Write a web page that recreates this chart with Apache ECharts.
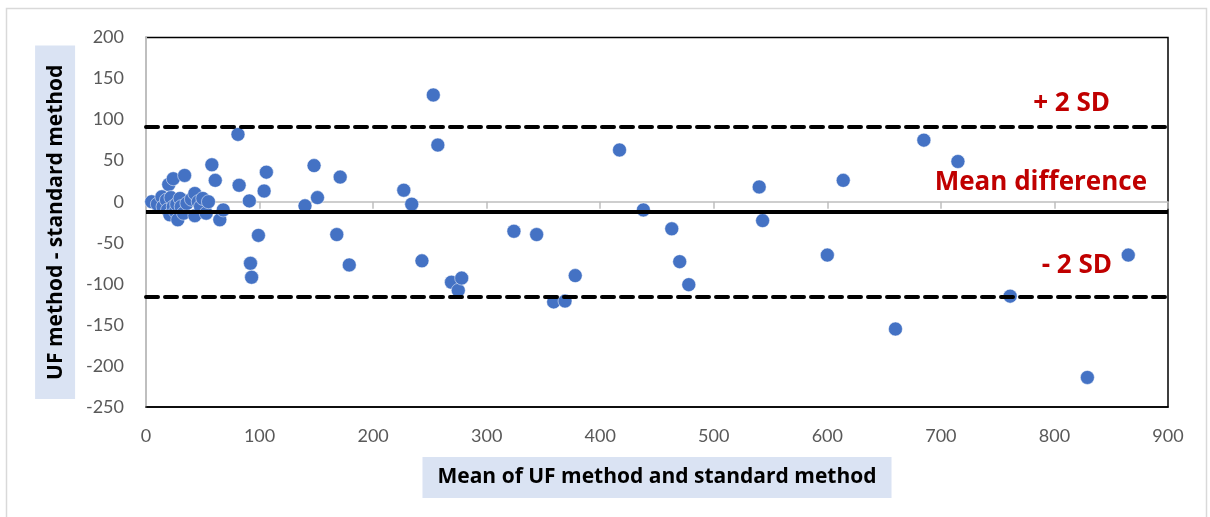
<!DOCTYPE html>
<html>
<head>
<meta http-equiv="Content-Type" content="text/html; charset=utf-8" />
<title>Bland-Altman</title>
<script src="https://cdn.jsdelivr.net/npm/echarts@6/dist/echarts.min.js"></script>
<style>
  html, body { margin: 0; padding: 0; background: #fff; }
  #main { width: 1210px; height: 517px; }
</style>
</head>
<body>
  <div id="main"></div>
<script type="text/javascript">
// mean of the two methods (x) and their difference (y)
var meanX = [5, 10, 14, 15, 18, 19, 20, 21, 22, 24, 24, 26, 27, 28, 30, 31, 33, 34, 36, 40,
  43, 43, 46, 48, 50, 53, 55, 58, 61, 65, 68,
  81, 82, 91, 92, 93, 99, 104, 106, 140, 148, 151, 168, 171, 179, 227, 234, 243, 253, 257,
  269, 275, 278, 324, 344, 359, 369, 378, 417, 438, 463, 470, 478, 540, 543, 600, 614,
  660, 685, 715, 761, 829, 865];
var diffY = [0, -3, 6, -6, 2, -10, 21, -16, 5, 28, -6, -12, -3, -22, 4, -6, -14, 32, -2, 3,
  10, -17, 0, -6, 4, -14, 0, 45, 26, -22, -10,
  82, 20, 1, -75, -92, -41, 13, 36, -5, 44, 5, -40, 30, -77, 14, -3, -72, 130, 69,
  -98, -108, -93, -36, -40, -122, -121, -90, 63, -10, -33, -73, -101, 18, -23, -65, 26,
  -155, 75, 49, -115, -214, -65];

var meanDiff = -12.5;
var upperSD = 91;
var lowerSD = -116;

var xTicks = [0, 900, 100];      // min, max, interval
var yTicks = [-250, 200, 50];

var points = [];
for (var i = 0; i < meanX.length; i++) {
  points.push([meanX[i], diffY[i]]);
}

var red = '#C00000';
var font = 'Lato, "Open Sans", sans-serif';
var boldFont = '"Open Sans", Lato, sans-serif';

var chart = echarts.init(document.getElementById('main'));
var option = {
  animation: false,
  textStyle: { fontFamily: font },
  graphic: [{
    type: 'rect',
    shape: { x: 6.5, y: 8.5, width: 1200, height: 530 },
    style: { fill: 'none', stroke: '#D9D9D9', lineWidth: 1.5 },
    silent: true
  }],
  grid: {
    left: 146, right: 42, top: 37.5, bottom: 110,
    show: true, borderColor: '#000', borderWidth: 1.5,
    containLabel: false
  },
  xAxis: [{
    // labels along the bottom
    type: 'value', position: 'bottom',
    min: xTicks[0], max: xTicks[1], interval: xTicks[2],
    axisLine: { show: true, onZero: false, lineStyle: { color: '#000', width: 1.5 } },
    axisTick: { show: false },
    splitLine: { show: false },
    axisLabel: { color: '#595959', fontSize: 18, margin: 20, fontFamily: font },
    name: 'Mean of UF method and standard method',
    nameLocation: 'middle', nameGap: 50,
    nameTextStyle: {
      fontSize: 21, fontWeight: 'bold', color: '#000', fontFamily: boldFont,
      backgroundColor: '#DAE3F3', padding: [10, 15, 10, 15]
    }
  }, {
    // grey axis line crossing at zero
    type: 'value', position: 'bottom',
    min: xTicks[0], max: xTicks[1], interval: xTicks[2],
    axisLine: { show: true, onZero: true, lineStyle: { color: '#BFBFBF', width: 1.5 } },
    axisTick: { show: true, length: 7, lineStyle: { color: '#BFBFBF', width: 1.5 } },
    axisLabel: { show: false },
    splitLine: { show: false }
  }],
  yAxis: {
    type: 'value',
    min: yTicks[0], max: yTicks[1], interval: yTicks[2],
    axisLine: { show: true, onZero: false, lineStyle: { color: '#BFBFBF', width: 2 } },
    axisTick: { show: false },
    splitLine: { show: false },
    axisLabel: { color: '#595959', fontSize: 18, margin: 22, fontFamily: font },
    name: 'UF method - standard method',
    nameLocation: 'middle', nameRotate: 90, nameGap: 70,
    nameTextStyle: {
      fontSize: 21, fontWeight: 'bold', color: '#000', fontFamily: boldFont,
      backgroundColor: '#DAE3F3', padding: [10, 19, 9, 19]
    }
  },
  series: [{
    // limits of agreement
    type: 'scatter', data: [], z: 1,
    markLine: {
      silent: true, symbol: 'none', animation: false,
      data: [{
        yAxis: upperSD,
        lineStyle: { color: '#000', width: 4, type: [12, 7], cap: 'round' },
        label: { show: true, position: 'insideEndTop', formatter: '+ 2 SD', distance: [58, 10] }
      }, {
        yAxis: meanDiff,
        lineStyle: { color: '#000', width: 4, type: 'solid' },
        label: { show: true, position: 'insideEndTop', formatter: 'Mean difference', distance: [21, 16] }
      }, {
        yAxis: lowerSD,
        lineStyle: { color: '#000', width: 4, type: [12, 7], cap: 'round' },
        label: { show: true, position: 'insideEndTop', formatter: '- 2 SD', distance: [56, 18] }
      }],
      label: { color: red, fontSize: 26, fontWeight: 'bold', fontFamily: boldFont }
    }
  }, {
    type: 'scatter', z: 3,
    data: points,
    symbolSize: 14,
    itemStyle: { color: '#4472C4', opacity: 1, borderColor: '#fff', borderWidth: 0.5 }
  }]
};
chart.setOption(option);
</script>
</body>
</html>
